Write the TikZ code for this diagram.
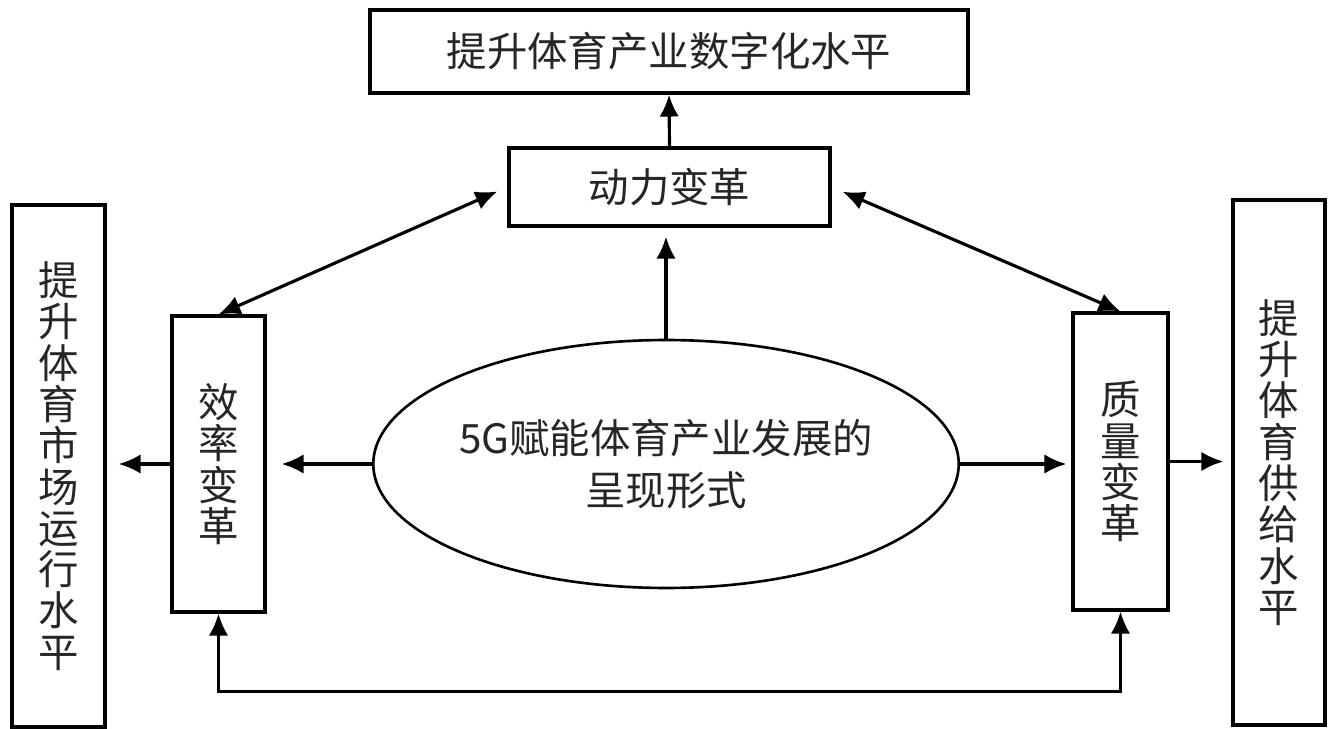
\documentclass[tikz,border=0pt]{standalone}
\usepackage{fontspec}
\setmainfont{Noto Sans CJK SC}
\usetikzlibrary{shapes.geometric,arrows.meta}
\begin{document}
\begin{tikzpicture}[x=0.02cm,y=-0.02cm,>={Latex[length=12.5pt,width=11pt]},
	box/.style={draw,line width=1.8pt,inner sep=0pt,align=center,text=black!85,font=\fontsize{23}{23.5}\selectfont},
	link/.style={line width=1.8pt,->},
	twolink/.style={line width=1.8pt,<->}]
	\useasboundingbox (0,0) rectangle (1335,729);
	\node[box,minimum width=11.96cm,minimum height=1.66cm] (digital) at (669,51.5) {提升体育产业数字化水平};
	\node[box,minimum width=6.42cm,minimum height=1.56cm] (power) at (669.5,187) {动力变革};
	\node[box,minimum width=1.86cm,minimum height=10.44cm] (market) at (58.5,466) {提\\升\\体\\育\\市\\场\\运\\行\\水\\平};
	\node[box,minimum width=1.86cm,minimum height=5.92cm] (eff) at (218.5,464) {效\\率\\变\\革};
	\node[box,minimum width=1.9cm,minimum height=5.94cm] (quality) at (1120.5,461.5) {质\\量\\变\\革};
	\node[box,minimum width=1.84cm,minimum height=10.5cm] (supply) at (1279,462.5) {提\\升\\体\\育\\供\\给\\水\\平};
	\node[ellipse,draw,line width=1.5pt,inner sep=0pt,minimum width=11.56cm,minimum height=4.96cm,
	align=center,text=black!85,font=\fontsize{23}{29.5}\selectfont] (core) at (666,464) {5G赋能体育产业发展的\\呈现形式};
	\draw[link] (power.north) -- (digital.south);
	\draw[link,shorten >=0.18cm] (core.north) -- (core.north |- power.south);
	\draw[link,shorten >=0.3cm] (core.west) -- (eff.east);
	\draw[link,shorten >=0.24cm] (eff.west) -- (eff.west -| market.east);
	\draw[link,shorten >=0.1cm] (core.east) -- (core.east -| quality.west);
	\draw[link,shorten >=0.16cm] (quality.east) -- (quality.east -| supply.west);
	\draw[twolink,shorten <=0.22cm] (power.west) -- (eff.north);
	\draw[twolink,shorten <=0.24cm] (power.east) -- (quality.north);
	\draw[twolink] (eff.south) -- ++(0,78) -| (quality.south);
\end{tikzpicture}
\end{document}
